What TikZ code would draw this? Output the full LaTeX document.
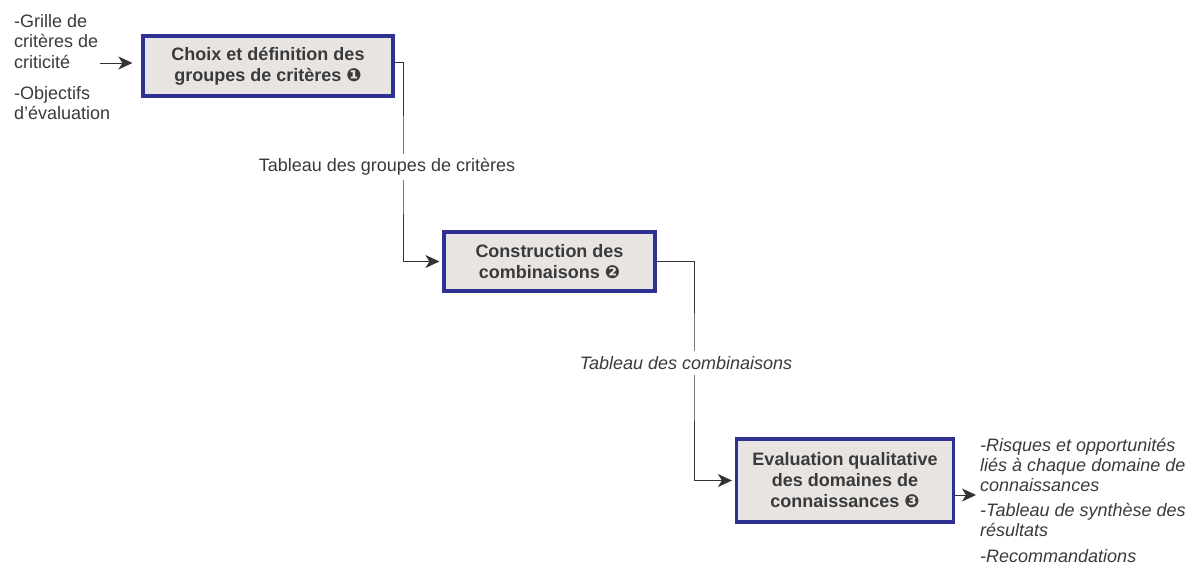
\documentclass[tikz,border=0pt]{standalone}
\usepackage{fontspec}
\setmainfont{Liberation Sans}
\newfontfamily\dejavu{DejaVu Sans}
\usetikzlibrary{arrows.meta}
\definecolor{boxblue}{HTML}{2E3192}
\definecolor{boxgray}{HTML}{E7E4E2}
\definecolor{txtgray}{HTML}{3A3A3A}
\definecolor{lngray}{HTML}{333333}
\newcommand{\tightlines}{\lineskiplimit=-20pt\relax}
\tikzset{
  stepbox/.style={draw=boxblue, line width=3.2pt, fill=boxgray, text=txtgray,
    font=\bfseries\fontsize{18}{21}\selectfont, align=center, inner sep=0pt},
  conn/.style={draw=lngray, line width=0.9pt},
  arr/.style={conn, -{Stealth[length=14pt,width=13pt,inset=4pt]}},
  lbl/.style={text=txtgray, font=\fontsize{18}{21}\selectfont, fill=white, inner xsep=2pt, inner ysep=5pt},
  side/.style={text=txtgray, align=left, inner sep=0pt}
}
\begin{document}
\begin{tikzpicture}[x=1pt,y=-1pt]
\useasboundingbox (0,0) rectangle (1197,583);
\node[stepbox, minimum width=250pt, minimum height=60pt] (b1) at (268,66) {Choix et définition des\\groupes de critères {\dejavu ❶}};
\node[stepbox, minimum width=211pt, minimum height=59pt] (b2) at (549.5,261.5) {Construction des\\combinaisons {\dejavu ❷}};
\node[stepbox, minimum width=217pt, minimum height=83pt] (b3) at (845,480.5) {Evaluation qualitative\\des domaines de\\connaissances {\dejavu ❸}};
\coordinate (c1) at (403,168);
\coordinate (c2) at (694,364);
\draw[arr, shorten >=3pt] ([yshift=4pt]b1.east) -| (c1) |- (b2.west);
\draw[arr, shorten >=3pt] (b2.east) -| (c2) |- (b3.west);
\node[lbl] (l1) at (387,167) {Tableau des groupes de critères};
\node[lbl, font=\itshape\fontsize{18}{21}\selectfont] (l2) at (686,363) {Tableau des combinaisons};
\node[side, anchor=north west, font=\fontsize{18}{20.5}\selectfont\tightlines] (in) at (14,7) {\rule{0pt}{20pt}-Grille de\\critères de\\criticité\\[10.5pt]-Objectifs\\d’évaluation};
\coordinate (inA) at (100,63);
\draw[arr, shorten >=9pt] (inA) -- ([yshift=3pt]b1.west);
\node[side, anchor=north west, font=\itshape\fontsize{18}{20}\selectfont\tightlines] (out) at (980,431) {\rule{0pt}{20pt}-Risques et opportunités\\liés à chaque domaine de\\connaissances\\[5.5pt]-Tableau de synthèse des\\résultats\\[5.5pt]-Recommandations};
\coordinate (outB) at (976,495);
\draw[arr] ([yshift=-14.5pt]b3.east) -- (outB);
\end{tikzpicture}
\end{document}
